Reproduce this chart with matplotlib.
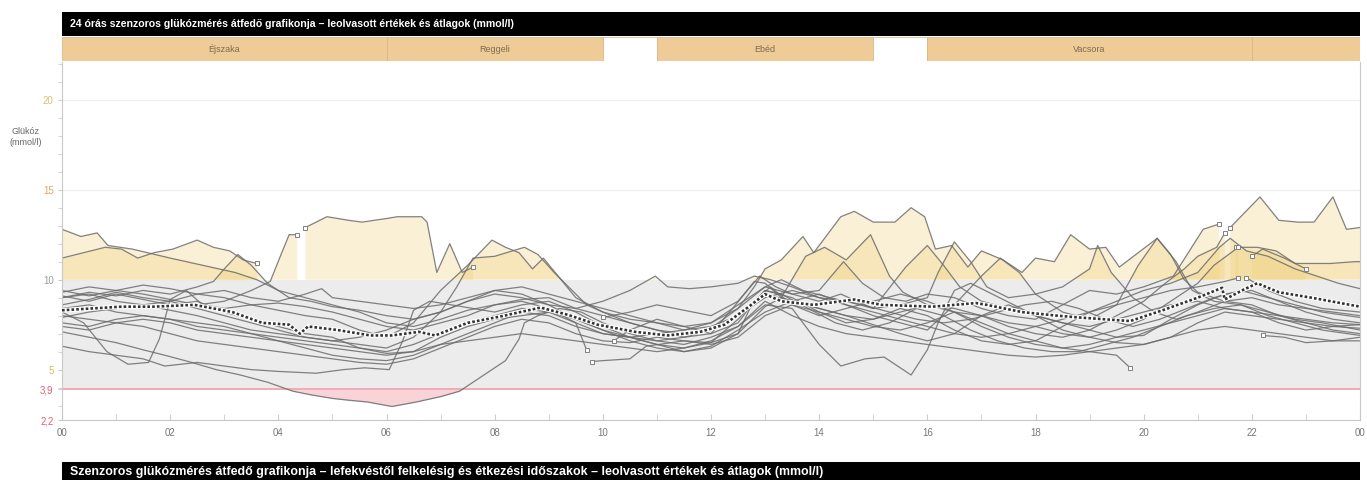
"""24 hour overlay of CGM sensor days with the daily mean."""

import numpy as np
import matplotlib
matplotlib.use("Agg")
import matplotlib.pyplot as plt
from matplotlib.ticker import MultipleLocator, FixedLocator

plt.rcParams["font.family"] = ["Liberation Sans", "DejaVu Sans"]

# --- meal periods (hours) ---------------------------------------------------
PERIOD_NAMES = ["Éjszaka", "Reggeli", "", "Ebéd", "", "Vacsora", ""]
PERIOD_START = [0, 6, 10, 11, 15, 16, 22]
PERIOD_END = [6, 10, 11, 15, 16, 22, 24]
PERIOD_FILLED = [True, True, False, True, False, True, True]

# --- sensor days: (hour, mmol/l), None marks a sensor gap ----------------------
day01 = [(0, 12.8), (0.35, 12.4), (0.65, 12.6), (0.85, 11.9), (1.3, 11.7), (2.0, 11.2), (2.6, 10.8),
         (3.2, 10.4), (3.6, 10.0), (4.0, 9.4), (4.5, 9.0), (5.0, 8.6), (5.5, 8.2), (6.0, 7.6), (6.5, 7.4),
         (7.0, 7.8), (7.5, 8.3), (8.0, 8.6), (8.5, 8.9), (9.0, 9.0), (9.5, 8.4), (10.0, 8.0), (10.5, 7.6),
         (11.0, 7.2), (11.5, 7.0), (12.0, 7.3), (12.5, 8.4), (12.8, 9.6), (13.0, 10.6), (13.3, 11.1),
         (13.7, 12.4), (13.9, 11.5), (14.4, 13.5), (14.65, 13.8), (15.0, 13.2), (15.4, 13.2), (15.7, 14.0),
         (15.95, 13.5), (16.15, 11.7), (16.45, 11.9), (16.75, 10.7), (17.0, 11.6), (17.4, 11.1),
         (17.75, 10.4), (18.0, 11.2), (18.35, 11.0), (18.65, 12.5), (19.0, 11.7), (19.3, 11.8),
         (19.55, 10.7), (20.25, 12.3), (20.5, 11.4), (20.75, 10.0), (21.0, 9.3), (21.5, 8.8), (22.0, 8.6),
         (22.5, 8.0), (23.0, 7.8), (23.5, 7.6), (24.0, 7.5)]
day02 = [(0, 11.2), (0.4, 11.5), (0.8, 11.8), (1.1, 11.7), (1.4, 11.2), (1.7, 11.5), (2.05, 11.7),
         (2.5, 12.2), (2.8, 11.8), (3.1, 11.6), (3.35, 11.1), (3.6, 10.9), (3.7, None), (9.8, 5.45),
         (10.0, 5.5), (10.5, 5.6), (10.8, 6.3), (11.5, 6.6), (12.0, 6.5), (12.5, 7.0), (13.0, 8.5),
         (13.3, 9.0), (14.0, 8.4), (14.5, 8.0), (15.0, 7.5), (15.5, 7.0), (16.0, 6.6), (16.5, 7.0),
         (17.0, 8.0), (17.5, 8.6), (18.0, 8.0), (18.5, 7.2), (19.0, 6.8), (19.5, 6.5), (20.0, 6.4),
         (20.5, 6.8), (21.0, 7.6), (21.5, 8.2), (22.0, 8.0), (22.5, 7.8), (23.0, 7.6), (23.5, 7.2), (24.0, 7.0)]
day03 = [(0, 9.4), (0.5, 9.1), (1.0, 9.4), (1.5, 9.2), (2.0, 8.9), (2.5, 8.6), (3.0, 8.8), (3.5, 9.4),
         (3.85, 9.9), (4.05, 11.4), (4.2, 12.5), (4.35, 12.5), (4.42, None), (4.5, 12.9), (4.9, 13.5),
         (5.3, 13.3), (5.55, 13.2), (6.0, 13.4), (6.2, 13.5), (6.65, 13.5), (6.75, 13.2), (6.93, 10.4),
         (7.17, 12.0), (7.4, 10.4), (7.6, 10.7), (8.0, None), (10.0, 7.9), (10.5, 8.2), (11.0, 8.6),
         (11.5, 8.3), (12.0, 8.0), (12.5, 8.8), (12.9, 10.2), (13.2, 9.6), (13.5, 9.2), (14.0, 9.4),
         (14.45, 11.0), (14.8, 9.8), (15.2, 9.0), (15.6, 8.8), (16.0, 9.2), (16.5, 9.0), (17.0, 8.4),
         (17.5, 8.0), (18.0, 7.8), (18.5, 8.6), (19.0, 9.4), (19.5, 9.2), (20.0, 9.6), (20.55, 10.2),
         (21.1, 12.8), (21.4, 13.1), (21.5, None), (21.6, 12.9), (22.15, 14.6), (22.5, 13.3),
         (22.85, 13.2), (23.15, 13.2), (23.5, 14.6), (23.75, 12.8), (24.0, 12.9)]
day04 = [(0, 9.0), (0.5, 9.3), (1.0, 9.1), (1.5, 9.4), (2.0, 9.2), (2.5, 9.6), (2.8, 9.9), (3.0, 10.6),
         (3.25, 11.4), (3.5, 10.8), (3.8, 9.8), (4.2, 9.0), (4.6, 8.8), (5.0, 8.5), (5.5, 8.3), (6.0, 8.0),
         (6.5, 7.8), (7.0, 8.2), (7.5, 8.8), (8.0, 9.4), (8.5, 9.2), (9.0, 8.6), (9.5, 7.8), (10.0, 7.2),
         (10.5, 6.8), (11.0, 6.4), (11.5, 6.2), (12.0, 6.5), (12.5, 7.8), (13.0, 9.4), (13.5, 9.0),
         (14.0, 8.2), (14.5, 7.6), (15.0, 7.8), (15.5, 8.4), (16.0, 8.0), (16.5, 7.2), (17.0, 6.6),
         (17.5, 6.4), (18.0, 6.6), (18.5, 7.4), (19.0, 8.2), (19.5, 8.8), (20.0, 9.4), (20.5, 9.8),
         (21.0, 10.4), (21.4, 11.8), (21.6, 12.3), (21.9, 11.6), (22.3, 11.3), (22.8, 10.6), (23.2, 10.2),
         (23.6, 9.8), (24.0, 9.5)]
day05 = [(0, 8.6), (0.5, 8.9), (1.0, 9.3), (1.5, 9.0), (2.0, 8.8), (2.5, 9.2), (3.0, 9.0), (3.5, 8.6),
         (4.0, 8.3), (4.5, 8.0), (5.0, 7.8), (5.5, 7.2), (6.0, 6.8), (6.5, 7.6), (7.0, 9.4), (7.5, 10.8),
         (7.95, 12.2), (8.2, 11.8), (8.45, 11.5), (8.7, 10.6), (8.9, 11.2), (9.2, 10.1), (9.5, 9.0),
         (10.0, 8.2), (10.5, 7.6), (11.0, 7.2), (11.5, 6.8), (12.0, 7.0), (12.4, 8.4), (12.8, 9.9),
         (13.0, 9.8), (13.3, 9.0), (13.75, 11.3), (14.1, 11.8), (14.5, 11.1), (14.95, 12.5), (15.3, 10.2),
         (15.55, 9.3), (16.0, 8.6), (16.5, 8.2), (17.0, 7.6), (17.5, 7.0), (18.0, 6.6), (18.5, 6.2),
         (19.0, 6.0), (19.5, 5.8), (19.75, 5.1), (20.0, None), (22.2, 6.9), (22.6, 6.8), (23.0, 6.5),
         (23.5, 6.6), (24.0, 6.8)]
day06 = [(0, 7.9), (0.5, 8.2), (1.0, 8.4), (1.5, 8.6), (2.0, 8.3), (2.5, 8.0), (3.0, 7.6), (3.5, 7.2),
         (4.0, 7.0), (4.5, 6.8), (5.0, 6.6), (5.5, 6.4), (6.0, 6.2), (6.5, 6.8), (7.0, 8.2), (7.3, 9.6),
         (7.6, 11.2), (8.0, 11.3), (8.55, 11.8), (8.8, 11.4), (9.1, 10.4), (9.4, 9.5), (9.7, 8.6),
         (10.0, 8.2), (10.5, 7.8), (11.0, 7.6), (11.5, 7.2), (12.0, 7.6), (12.5, 8.6), (13.0, 9.6),
         (13.5, 9.2), (14.0, 8.8), (14.4, 9.2), (15.0, 8.4), (15.6, 10.7), (16.0, 11.9), (16.3, 10.8),
         (16.6, 9.6), (17.0, 8.8), (17.5, 8.4), (18.0, 8.0), (18.5, 7.6), (19.0, 7.2), (19.5, 6.8),
         (20.0, 6.9), (20.5, 7.8), (21.0, 8.6), (21.5, 9.2), (22.0, 9.4), (22.5, 8.8), (23.0, 8.2),
         (23.5, 7.8), (24.0, 7.6)]
day07 = [(0, 7.1), (0.5, 6.8), (1.0, 6.5), (1.5, 6.1), (1.9, 5.8), (2.4, 5.4), (2.85, 5.0), (3.3, 4.7),
         (3.8, 4.3), (4.27, 3.8), (4.6, 3.6), (5.0, 3.4), (5.3, 3.3), (5.65, 3.2), (6.1, 2.95), (6.55, 3.2),
         (7.0, 3.5), (7.35, 3.8), (7.75, 4.6), (8.2, 5.5), (8.45, 6.7), (8.55, 7.6), (8.8, 8.0), (9.2, 8.4),
         (9.6, 8.2), (10.0, 7.6), (10.5, 7.0), (11.0, 6.6), (11.5, 6.4), (12.0, 6.8), (12.5, 7.4),
         (13.0, 8.6), (13.5, 8.4), (14.0, 6.4), (14.4, 5.2), (14.85, 5.6), (15.2, 5.7), (15.7, 4.7),
         (16.0, 6.1), (16.2, 7.6), (16.5, 9.4), (16.8, 9.8), (17.2, 9.2), (17.6, 8.6), (18.0, 8.0),
         (18.5, 7.6), (19.0, 7.4), (19.5, 7.8), (20.0, 8.2), (20.5, 8.6), (21.0, 8.8), (21.5, 8.4),
         (22.0, 8.2), (22.5, 8.0), (23.0, 7.6), (23.5, 7.4), (24.0, 7.3)]
day08 = [(0, 8.2), (0.4, 7.6), (0.83, 6.0), (1.22, 5.3), (1.6, 5.4), (1.8, 6.7), (2.0, 8.9), (2.3, 9.4),
         (2.6, 8.6), (3.0, 8.4), (3.5, 8.6), (4.0, 8.7), (4.5, 8.5), (5.0, 8.2), (5.5, 7.8), (6.0, 7.4),
         (6.5, 7.2), (7.0, 7.6), (7.5, 8.0), (8.0, 8.6), (8.5, 8.8), (9.0, 8.4), (9.5, 7.6), (9.7, 6.1),
         (9.9, None), (10.2, 6.6), (10.5, 7.2), (11.0, 7.8), (11.5, 7.4), (12.0, 7.0), (12.5, 7.6),
         (12.8, 8.8), (13.1, 9.6), (13.5, 8.6), (14.0, 8.0), (14.5, 8.4), (15.0, 8.8), (15.5, 9.2),
         (16.0, 8.8), (16.5, 8.2), (17.0, 7.4), (17.5, 6.8), (18.0, 6.4), (18.5, 6.2), (19.0, 6.4),
         (19.5, 6.8), (20.0, 7.2), (20.5, 7.6), (21.0, 8.0), (21.5, 8.4), (22.0, 8.2), (22.5, 7.6),
         (23.0, 7.2), (23.5, 7.4), (24.0, 7.5)]
day09 = [(0, 6.3), (0.5, 6.0), (1.0, 5.8), (1.5, 5.6), (1.9, 5.2), (2.5, 5.4), (3.0, 5.2), (3.5, 5.0),
         (4.0, 4.9), (4.7, 4.8), (5.2, 5.0), (5.6, 5.1), (6.05, 5.0), (6.3, 6.6), (6.5, 8.3), (6.8, 8.8),
         (7.2, 8.6), (7.6, 8.4), (8.0, 8.2), (8.5, 8.6), (9.0, 8.8), (9.5, 8.2), (10.0, 7.4), (10.5, 6.8),
         (11.0, 6.4), (11.5, 6.0), (12.0, 6.2), (12.5, 7.0), (12.75, 8.6), (13.0, 9.4), (13.3, 9.2),
         (13.8, 8.4), (14.3, 7.6), (14.8, 7.2), (15.3, 7.6), (15.8, 8.4), (16.3, 8.0), (16.8, 7.2),
         (17.3, 6.6), (17.8, 6.2), (18.3, 6.0), (18.8, 6.0), (19.3, 6.4), (19.8, 6.8), (20.3, 7.4),
         (20.8, 8.0), (21.3, 8.4), (21.8, 8.6), (22.3, 8.0), (22.8, 7.6), (23.3, 7.2), (24.0, 6.9)]
day10 = [(0, 9.1), (0.5, 8.8), (1.0, 9.2), (1.5, 8.9), (2.0, 8.6), (2.5, 8.8), (3.0, 8.2), (3.5, 7.8),
         (4.0, 7.4), (4.5, 7.0), (5.0, 6.8), (5.5, 6.2), (6.0, 5.9), (6.5, 6.0), (7.0, 6.8), (7.5, 7.4),
         (8.0, 7.8), (8.5, 8.0), (9.0, 8.2), (9.5, 7.8), (10.0, 7.2), (10.5, 6.6), (11.0, 6.2), (11.5, 6.0),
         (12.0, 6.3), (12.5, 7.2), (13.0, 8.2), (13.5, 8.8), (14.0, 9.2), (14.5, 8.6), (15.0, 8.0),
         (15.5, 7.6), (16.0, 7.2), (16.5, 8.6), (17.0, 10.2), (17.35, 11.2), (17.7, 10.4), (18.0, 9.2),
         (18.5, 8.2), (19.0, 7.8), (19.5, 8.6), (19.9, 10.8), (20.25, 12.3), (20.6, 11.0), (20.9, 9.4),
         (21.3, 8.8), (21.8, 8.6), (22.3, 8.2), (22.8, 7.8), (23.3, 7.6), (24.0, 7.2)]
day11 = [(0, 9.0), (0.5, 9.2), (1.0, 8.8), (1.5, 8.6), (2.0, 8.8), (2.5, 8.4), (3.0, 8.0), (3.5, 7.6),
         (4.0, 7.2), (4.5, 6.8), (5.0, 6.6), (5.5, 6.8), (6.0, 7.2), (6.5, 7.8), (7.0, 8.2), (7.5, 8.8),
         (8.0, 9.2), (8.5, 9.0), (9.0, 8.6), (9.5, 8.4), (10.0, 8.8), (10.5, 9.4), (10.97, 10.2),
         (11.2, 9.6), (11.6, 9.5), (12.0, 9.6), (12.5, 9.8), (12.8, 10.2), (13.1, 10.0), (13.5, 9.6),
         (14.0, 9.0), (14.5, 8.8), (15.0, 8.4), (15.5, 8.6), (16.0, 9.0), (16.2, 10.4), (16.5, 12.1),
         (16.8, 11.0), (17.1, 9.6), (17.5, 9.0), (18.0, 9.2), (18.5, 9.6), (19.0, 10.6), (19.15, 11.9),
         (19.4, 10.4), (19.8, 9.0), (20.2, 8.2), (20.6, 7.8), (21.0, 8.2), (21.5, 8.8), (22.0, 9.0),
         (22.5, 8.6), (23.0, 8.4), (23.5, 8.2), (24.0, 8.0)]
day12 = [(0, 8.0), (0.5, 7.8), (1.0, 7.6), (1.5, 7.4), (2.0, 7.0), (2.5, 6.6), (3.0, 6.4), (3.5, 6.2),
         (4.0, 6.0), (4.5, 5.8), (5.0, 5.6), (5.5, 5.4), (6.0, 5.3), (6.5, 5.6), (7.0, 6.2), (7.5, 6.8),
         (8.0, 7.4), (8.5, 7.8), (9.0, 7.6), (9.5, 7.0), (10.0, 6.6), (10.5, 6.5), (11.0, 6.8), (11.5, 6.6),
         (12.0, 6.4), (12.5, 6.8), (13.0, 8.0), (13.5, 8.6), (14.0, 8.2), (14.5, 7.8), (15.0, 7.4),
         (15.5, 7.2), (16.0, 7.6), (16.5, 8.2), (17.0, 8.0), (17.5, 7.4), (18.0, 7.0), (18.5, 6.8),
         (19.0, 7.2), (19.5, 8.0), (20.0, 8.8), (20.4, 9.8), (20.75, 10.6), (21.0, 11.3), (21.35, 11.8),
         (21.5, 12.6), (21.6, None), (21.7, 11.8), (22.1, 11.8), (22.45, 11.6), (22.8, 10.9),
         (23.45, 10.9), (23.9, 11.0), (24.0, 11.0)]
day13 = [(0, 7.4), (0.5, 7.2), (1.0, 7.6), (1.5, 7.8), (2.0, 7.6), (2.5, 7.2), (3.0, 7.0), (3.5, 6.8),
         (4.0, 6.6), (4.5, 6.4), (5.0, 6.2), (5.5, 6.0), (6.0, 5.8), (6.5, 6.0), (7.0, 6.4), (7.5, 7.0),
         (8.0, 7.6), (8.5, 8.2), (9.0, 8.0), (9.5, 7.4), (10.0, 7.0), (10.5, 6.8), (11.0, 7.0), (11.5, 7.2),
         (12.0, 7.4), (12.5, 8.0), (13.0, 9.2), (13.5, 8.8), (14.0, 8.4), (14.5, 8.0), (15.0, 7.8),
         (15.5, 8.2), (16.0, 8.6), (16.5, 8.4), (17.0, 8.0), (17.5, 7.6), (18.0, 7.4), (18.5, 7.0),
         (19.0, 6.8), (19.5, 7.2), (20.0, 7.8), (20.5, 8.8), (21.0, 9.8), (21.3, 10.8), (21.75, 11.8),
         (21.85, None), (22.0, 11.3), (22.2, 11.7), (22.6, 11.2), (23.0, 10.6), (23.1, None)]
day14 = [(0, 8.4), (0.5, 8.6), (1.0, 8.2), (1.5, 8.0), (2.0, 7.8), (2.5, 7.4), (3.0, 7.2), (3.5, 7.0),
         (4.0, 6.8), (4.5, 6.6), (5.0, 6.4), (5.5, 6.2), (6.0, 6.0), (6.5, 6.4), (7.0, 7.0), (7.5, 7.6),
         (8.0, 8.0), (8.5, 8.4), (9.0, 8.2), (9.5, 7.6), (10.0, 7.0), (10.5, 6.8), (11.0, 6.6), (11.5, 6.8),
         (12.0, 7.2), (12.5, 8.0), (13.0, 9.0), (13.5, 9.4), (14.0, 9.0), (14.5, 8.6), (15.0, 8.2),
         (15.5, 7.8), (16.0, 7.4), (16.5, 7.0), (17.0, 6.8), (17.5, 7.0), (18.0, 7.4), (18.5, 7.8),
         (19.0, 8.2), (19.5, 8.6), (20.0, 9.0), (20.5, 9.4), (21.0, 9.6), (21.5, 9.9), (21.75, 10.1),
         (21.82, None), (21.9, 10.1), (22.3, 9.4), (22.8, 8.8), (23.3, 8.4), (24.0, 8.2)]
day15 = [(0, 9.3), (0.5, 9.6), (1.0, 9.4), (1.5, 9.7), (2.0, 9.5), (2.5, 9.2), (3.0, 9.4), (3.5, 9.0),
         (4.0, 8.8), (4.5, 9.2), (4.8, 9.5), (5.0, 9.0), (5.5, 8.8), (6.0, 8.6), (6.5, 8.4), (7.0, 8.6),
         (7.5, 9.0), (8.0, 9.4), (8.5, 9.6), (9.0, 9.2), (9.5, 8.8), (10.0, 8.4), (10.5, 8.0), (11.0, 7.6),
         (11.5, 7.4), (12.0, 7.6), (12.5, 8.4), (13.0, 9.6), (13.3, 10.0), (13.7, 9.4), (14.2, 9.0),
         (14.8, 8.6), (15.3, 8.2), (15.8, 7.8), (16.3, 7.6), (16.8, 7.8), (17.3, 8.2), (17.8, 8.6),
         (18.3, 8.8), (18.8, 8.4), (19.3, 7.8), (19.8, 7.4), (20.3, 7.8), (20.8, 8.4), (21.3, 9.0),
         (21.8, 9.4), (22.3, 9.0), (22.8, 8.6), (23.3, 8.2), (24.0, 7.9)]
day16 = [(0, 7.6), (0.5, 7.4), (1.0, 7.8), (1.5, 8.0), (2.0, 7.8), (2.5, 7.6), (3.0, 7.4), (3.5, 7.0),
         (4.0, 6.6), (4.5, 6.2), (5.0, 5.8), (5.5, 5.6), (6.0, 5.5), (6.5, 5.8), (7.0, 6.4), (7.5, 6.6),
         (8.0, 6.8), (8.5, 7.0), (9.0, 6.8), (9.5, 6.6), (10.0, 6.4), (10.5, 6.2), (11.0, 6.0), (11.5, 6.2),
         (12.0, 6.6), (12.5, 7.4), (13.0, 8.8), (13.5, 8.0), (14.0, 7.4), (14.5, 7.0), (15.0, 6.8),
         (15.5, 6.6), (16.0, 6.4), (16.5, 6.2), (17.0, 6.0), (17.5, 5.8), (18.0, 5.7), (18.5, 5.8),
         (19.0, 6.0), (19.5, 6.2), (20.0, 6.4), (20.5, 6.8), (21.0, 7.2), (21.5, 7.4), (22.0, 7.2),
         (22.5, 7.0), (23.0, 6.8), (23.5, 6.6), (24.0, 6.6)]

DAYS = [day01, day02, day03, day04, day05, day06, day07, day08,
        day09, day10, day11, day12, day13, day14, day15, day16]

# daily mean curve
MEAN_HOURS = [0, 1.1, 1.7, 2.45, 3.15, 3.7, 4.2, 4.4, 4.55, 5.1, 5.7, 6.1, 6.6, 6.9, 7.5, 8.1, 8.85,
              9.35, 9.9, 10.6, 11.2, 11.8, 12.25, 12.45, 12.7, 13.0, 13.3, 13.9, 14.65, 15.15, 16.1,
              16.9, 17.1, 17.75, 18.4, 18.8, 19.75, 20.35, 21.0, 21.45, 21.5, 21.85, 22.1, 22.5, 23.1, 24.0]
MEAN_VALUES = [8.3, 8.5, 8.5, 8.6, 8.2, 7.6, 7.5, 7.0, 7.4, 7.2, 6.9, 6.9, 7.1, 6.9, 7.6, 7.95, 8.45,
               8.05, 7.5, 7.1, 6.9, 7.1, 7.5, 7.95, 8.5, 9.2, 8.8, 8.6, 8.9, 8.6, 8.5,
               8.7, 8.6, 8.2, 8.0, 7.9, 7.7, 8.3, 9.0, 9.55, 8.9, 9.45, 9.8, 9.3, 9.0, 8.5]

TARGET_LOW = 3.9
TARGET_HIGH = 10.0
Y_MIN, Y_MAX = 2.2, 22.1
Y_TICKS = [2.2, 3.9, 5, 10, 15, 20]
Y_TICK_LABELS = ["2,2", "3,9", "5", "10", "15", "20"]
Y_TICK_COLORS = ["#e06070", "#e06070", "#c9c45a", "#9a9a9a", "#e0a75a", "#cfc46e"]
X_TICKS = list(range(0, 25, 2))
X_TICK_LABELS = [f"{h % 24:02d}" for h in X_TICKS]

TITLE = "24 órás szenzoros glükózmérés átfedő grafikonja – leolvasott értékek és átlagok (mmol/l)"
NEXT_TITLE = ("Szenzoros glükózmérés átfedő grafikonja – lefekvéstől felkelésig és étkezési "
              "időszakok – leolvasott értékek és átlagok (mmol/l)")

W, H = 1367, 480
LEFT, RIGHT = 62, 1360
AX_TOP, AX_BOTTOM = 62, 420


def _fx(px):
    return px / W


def _fy(py):
    return 1 - py / H


def _split(day):
    t = np.array([p[0] for p in day], dtype=float)
    v = np.array([np.nan if p[1] is None else p[1] for p in day], dtype=float)
    return t, v


fig = plt.figure(figsize=(W / 100, H / 100), dpi=100, facecolor="white")

# black title bars
for top, bottom, text, size in [(12, 36, TITLE, 7.6), (462, 490, NEXT_TITLE, 8.9)]:
    bar = fig.add_axes([_fx(LEFT), _fy(bottom), _fx(RIGHT - LEFT), (bottom - top) / H])
    bar.set_facecolor("black")
    bar.set_xticks([]); bar.set_yticks([])
    for s in bar.spines.values():
        s.set_visible(False)
    bar.text(0.006, 0.5 if bottom < 100 else 0.64, text, color="white", fontsize=size,
             fontweight="bold", va="center", ha="left", transform=bar.transAxes)

# meal period strip
strip = fig.add_axes([_fx(LEFT), _fy(61), _fx(RIGHT - LEFT), 24 / H])
for name, a, b, filled in zip(PERIOD_NAMES, PERIOD_START, PERIOD_END, PERIOD_FILLED):
    strip.barh(0, b - a, left=a, height=1, color="#efcc97" if filled else "white",
               edgecolor="#d9b98a", linewidth=0.6)
    if name:
        strip.text((a + b) / 2, 0, name, ha="center", va="center", fontsize=6.5, color="#7d6b52")
strip.set_xlim(0, 24); strip.set_ylim(-0.5, 0.5)
strip.set_xticks([]); strip.set_yticks([])
for s in strip.spines.values():
    s.set_visible(False)

# main glucose panel
ax = fig.add_axes([_fx(LEFT), _fy(AX_BOTTOM), _fx(RIGHT - LEFT), (AX_BOTTOM - AX_TOP) / H])
ax.set_xlim(0, 24)
ax.set_ylim(Y_MIN, Y_MAX)
ax.axhspan(TARGET_LOW, TARGET_HIGH, color="#ececec", zorder=0, lw=0)
for g in (15, 20):
    ax.axhline(g, color="#efefef", lw=0.9, zorder=0)
ax.axhline(TARGET_LOW, color="#f2a9b6", lw=1.4, zorder=1)

for day in DAYS:
    t, v = _split(day)
    ax.fill_between(t, v, TARGET_HIGH, where=v > TARGET_HIGH, interpolate=True,
                    color="#efcf7a", alpha=0.3, lw=0, zorder=1)
    ax.fill_between(t, v, TARGET_LOW, where=v < TARGET_LOW, interpolate=True,
                    color="#f4b8c0", alpha=0.6, lw=0, zorder=1)

for day in DAYS:
    t, v = _split(day)
    ax.plot(t, v, color="#6c6c6c", lw=0.9, alpha=0.85, zorder=2)
    # open squares where the sensor trace breaks off
    ok = ~np.isnan(v)
    prev_gap = np.r_[False, ~ok[:-1]]
    next_gap = np.r_[~ok[1:], False]
    ends = ok & (prev_gap | next_gap)
    ax.plot(t[ends], v[ends], ls="none", marker="s", ms=3.2, mfc="white",
            mec="#808080", mew=0.7, zorder=3)

ax.plot(MEAN_HOURS, MEAN_VALUES, color="white", lw=3.2, zorder=4, solid_capstyle="round")
ax.plot(MEAN_HOURS, MEAN_VALUES, color="#333333", lw=1.9, ls=(0, (1, 0.8)), zorder=5)

ax.set_xticks(X_TICKS)
ax.set_xticklabels(X_TICK_LABELS, fontsize=7, color="#777777")
ax.xaxis.set_minor_locator(MultipleLocator(1))
ax.tick_params(axis="x", which="both", direction="in", length=4, color="#cccccc", pad=6)
ax.set_yticks(Y_TICKS)
ax.set_yticklabels(Y_TICK_LABELS, fontsize=7)
for lbl, c in zip(ax.get_yticklabels(), Y_TICK_COLORS):
    lbl.set_color(c)
ax.yaxis.set_minor_locator(FixedLocator(np.arange(3, 23, 1)))
ax.tick_params(axis="y", which="both", direction="out", length=3, color="#cccccc", pad=3)
for side in ("left", "bottom", "right"):
    ax.spines[side].set_color("#c8c8c8")
ax.spines["top"].set_visible(False)

fig.text(_fx(26), _fy(137), "Glükóz\n(mmol/l)", ha="center", va="center",
         fontsize=6.5, color="#666666", linespacing=1.3)

fig.savefig("out.png", dpi=100, facecolor="white")
